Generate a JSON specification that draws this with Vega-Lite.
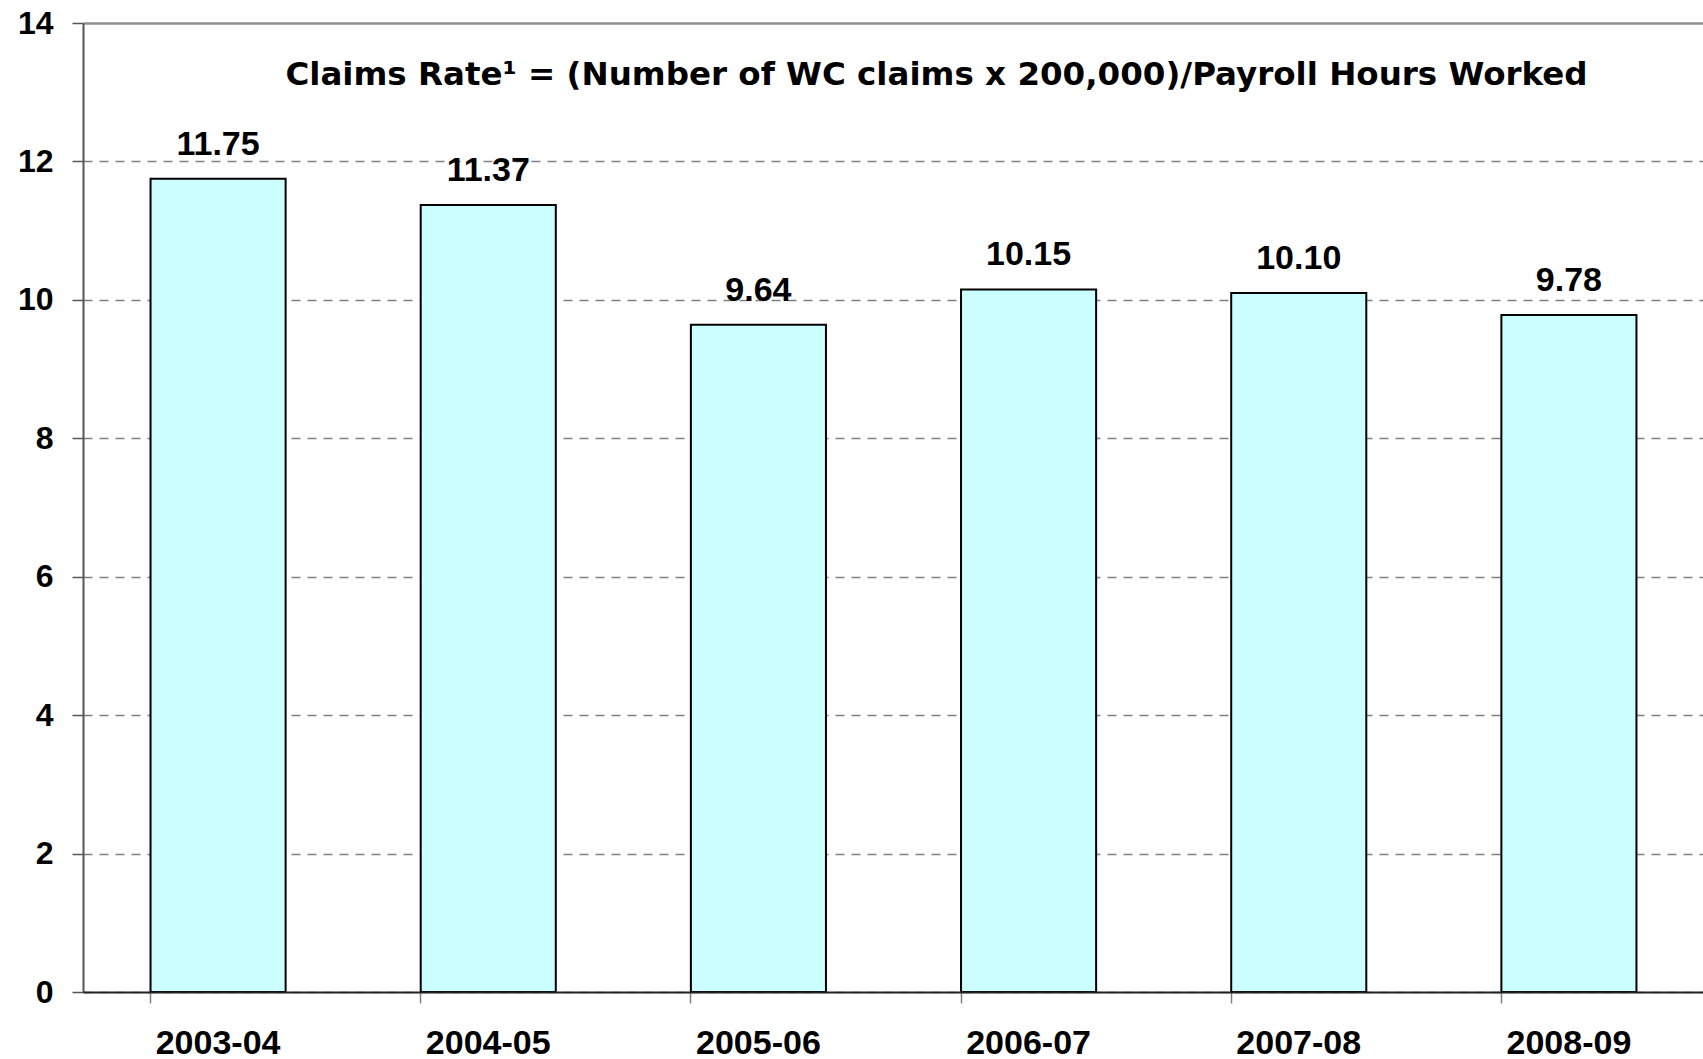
{
  "$schema": "https://vega.github.io/schema/vega-lite/v6.json",
  "autosize": {"type": "none"},
  "padding": {"left": 83, "top": 23, "right": 0, "bottom": 67},
  "width": 1621,
  "height": 969,
  "background": "white",
  "title": {
    "text": "Claims Rate¹ = (Number of WC claims x 200,000)/Payroll Hours Worked",
    "font": "DejaVu Sans",
    "fontSize": 32.5,
    "fontWeight": "bold",
    "color": "black",
    "anchor": "middle",
    "frame": "group",
    "baseline": "alphabetic",
    "offset": 0,
    "dx": 43,
    "dy": 110
  },
  "data": {
    "values": [
      {"year": "2003-04", "rate": 11.75},
      {"year": "2004-05", "rate": 11.37},
      {"year": "2005-06", "rate": 9.64},
      {"year": "2006-07", "rate": 10.15},
      {"year": "2007-08", "rate": 10.10},
      {"year": "2008-09", "rate": 9.78}
    ]
  },
  "config": {
    "view": {"stroke": null},
    "font": "Liberation Sans"
  },
  "encoding": {
    "x": {
      "field": "year",
      "type": "nominal",
      "sort": null,
      "scale": {"paddingInner": 0.5, "paddingOuter": 0.25},
      "axis": {
        "title": null,
        "labelAngle": 0,
        "labelFont": "Liberation Sans",
        "labelFontSize": 34,
        "labelFontWeight": "bold",
        "labelColor": "black",
        "labelBaseline": "top",
        "labelPadding": 23,
        "bandPosition": 0,
        "tickSize": 11,
        "tickColor": "#808080",
        "tickWidth": 1.5,
        "domainColor": "#222222",
        "domainWidth": 2,
        "grid": false,
        "zindex": 2
      }
    },
    "y": {
      "field": "rate",
      "type": "quantitative",
      "scale": {"domain": [0, 14], "nice": false},
      "axis": {
        "title": null,
        "values": [0, 2, 4, 6, 8, 10, 12, 14],
        "labelFont": "Liberation Sans",
        "labelFontSize": 32,
        "labelFontWeight": "bold",
        "labelColor": "black",
        "labelPadding": 19,
        "tickSize": 11,
        "tickColor": "#555555",
        "tickWidth": 1.5,
        "domainColor": "#555555",
        "domainWidth": 2,
        "grid": true,
        "gridColor": {"condition": {"test": "datum.value == 14", "value": "#909090"}, "value": "#808080"},
        "gridWidth": {"condition": {"test": "datum.value == 14", "value": 2.5}, "value": 1.5},
        "gridDash": {"condition": {"test": "datum.value == 14", "value": []}, "value": [9, 7]},
        "labelFlush": false
      }
    }
  },
  "layer": [
    {
      "mark": {"type": "bar", "fill": "#CCFFFF", "stroke": "black", "strokeWidth": 2}
    },
    {
      "mark": {
        "type": "text",
        "font": "Liberation Sans",
        "fontSize": 34,
        "fontWeight": "bold",
        "color": "black",
        "baseline": "alphabetic",
        "dy": -24
      },
      "encoding": {
        "text": {"field": "rate", "type": "quantitative", "format": ".2f"}
      }
    }
  ]
}
